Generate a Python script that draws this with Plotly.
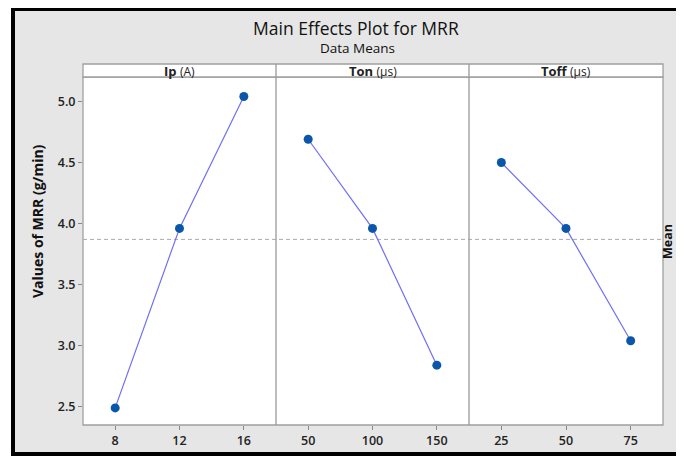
import plotly.graph_objects as go
from plotly.subplots import make_subplots

# ---- data ----
factors = ["Ip", "Ton", "Toff"]
units = ["(A)", "(µs)", "(µs)"]
ip_levels = [8, 12, 16]
ip_means = [2.49, 3.96, 5.04]
ton_levels = [50, 100, 150]
ton_means = [4.69, 3.96, 2.84]
toff_levels = [25, 50, 75]
toff_means = [4.50, 3.96, 3.04]
grand_mean = 3.87
y_ticks = [2.5, 3.0, 3.5, 4.0, 4.5, 5.0]

levels = [ip_levels, ton_levels, toff_levels]
means = [ip_means, ton_means, toff_means]
x_ranges = [[6, 18], [25, 175], [12.5, 87.5]]

OFF = 8  # browser body margin
W, H = 684 - 2 * OFF, 464 - 2 * OFF
def px(x):
    return (x - OFF) / W
def py(y):
    return 1 - (y - OFF) / H

left, right = 83, 663
div1, div2 = 276, 469
top_plot, bottom_plot = 77, 425
strip_top = 64
edges = [left, div1, div2, right]

font = "Open Sans, Noto Sans, DejaVu Sans, sans-serif"

fig = make_subplots(rows=1, cols=3, shared_yaxes=True, horizontal_spacing=0)

for i in range(3):
    fig.add_trace(go.Scatter(
        x=levels[i], y=means[i], mode="lines+markers",
        line=dict(color="#6f6ff5", width=1.2),
        marker=dict(color="#0a56a8", size=9),
        showlegend=False, hoverinfo="x+y"), row=1, col=i + 1)
    xa = "xaxis" if i == 0 else f"xaxis{i+1}"
    fig.layout[xa].update(
        domain=[px(edges[i]), px(edges[i + 1])],
        range=x_ranges[i], tickvals=levels[i], ticktext=[str(v) for v in levels[i]],
        showgrid=False, zeroline=False, showline=False,
        ticks="outside", ticklen=4, tickcolor="#888888", tickwidth=1,
        tickfont=dict(size=12.5, color="#222222", family=font, weight=600), fixedrange=True)

fig.update_yaxes(domain=[py(bottom_plot), py(top_plot)], range=[2.35, 5.2],
                 tickvals=y_ticks, ticktext=[f"{v:.1f}" for v in y_ticks],
                 showgrid=False, zeroline=False, showline=False,
                 ticks="outside", ticklen=4, tickcolor="#888888",
                 tickfont=dict(size=12.5, color="#222222", family=font, weight=600), fixedrange=True)
fig.update_yaxes(ticks="", showticklabels=False, col=2)
fig.update_yaxes(ticks="", showticklabels=False, col=3)

shapes = []
# outer frame
shapes.append(dict(type="rect", xref="paper", yref="paper", x0=px(13), x1=px(720),
                   y0=py(454), y1=py(9), line=dict(color="black", width=4),
                   fillcolor="#e6e6e6", layer="below"))
# plot area white
shapes.append(dict(type="rect", xref="paper", yref="paper", x0=px(left), x1=px(right),
                   y0=py(bottom_plot), y1=py(top_plot), line=dict(color="#a0a0a0", width=1.3),
                   fillcolor="white", layer="below"))
# strip
shapes.append(dict(type="rect", xref="paper", yref="paper", x0=px(left), x1=px(right),
                   y0=py(top_plot), y1=py(strip_top), line=dict(color="#a0a0a0", width=1.3),
                   fillcolor="white", layer="below"))
# dividers
for d in [div1, div2]:
    shapes.append(dict(type="line", xref="paper", yref="paper", x0=px(d), x1=px(d),
                       y0=py(bottom_plot), y1=py(strip_top), line=dict(color="#9a9a9a", width=1.3)))
# grand mean dashed line
shapes.append(dict(type="line", xref="paper", yref="y", x0=px(left), x1=px(right),
                   y0=grand_mean, y1=grand_mean,
                   line=dict(color="#aaaaaa", width=1, dash="4px,3px"), layer="below"))
fig.update_layout(shapes=shapes)

annotations = []
for i in range(3):
    cx = px((edges[i] + edges[i + 1]) / 2)
    annotations.append(dict(xref="paper", yref="paper", x=cx, y=py((strip_top + top_plot) / 2),
                            text=f"<b>{factors[i]}</b> <span style='font-size:12px;font-weight:400'>{units[i]}</span>",
                            showarrow=False, font=dict(size=13, color="#222222", family=font),
                            xanchor="center", yanchor="middle"))
annotations.append(dict(xref="paper", yref="paper", x=px(356), y=py(28),
                        text="Main Effects Plot for MRR", showarrow=False,
                        font=dict(size=17.5, color="#111111", family=font),
                        xanchor="center", yanchor="middle"))
annotations.append(dict(xref="paper", yref="paper", x=px(357), y=py(48.5),
                        text="Data Means", showarrow=False,
                        font=dict(size=13.5, color="#111111", family=font),
                        xanchor="center", yanchor="middle"))
annotations.append(dict(xref="paper", yref="paper", x=px(37), y=py(221),
                        text="<b>Values of MRR (g/min)</b>", showarrow=False, textangle=-90,
                        font=dict(size=14, color="#111111", family=font),
                        xanchor="center", yanchor="middle"))
annotations.append(dict(xref="paper", yref="paper", x=px(667), y=py(242),
                        text="<b>Mean</b>", showarrow=False, textangle=-90,
                        font=dict(size=12.5, color="#111111", family=font),
                        xanchor="center", yanchor="middle"))
fig.update_layout(annotations=annotations)

fig.update_layout(width=W, height=H, margin=dict(l=0, r=0, t=0, b=0),
                  paper_bgcolor="white", plot_bgcolor="rgba(0,0,0,0)",
                  font=dict(family=font))

fig.write_html("out.html")
